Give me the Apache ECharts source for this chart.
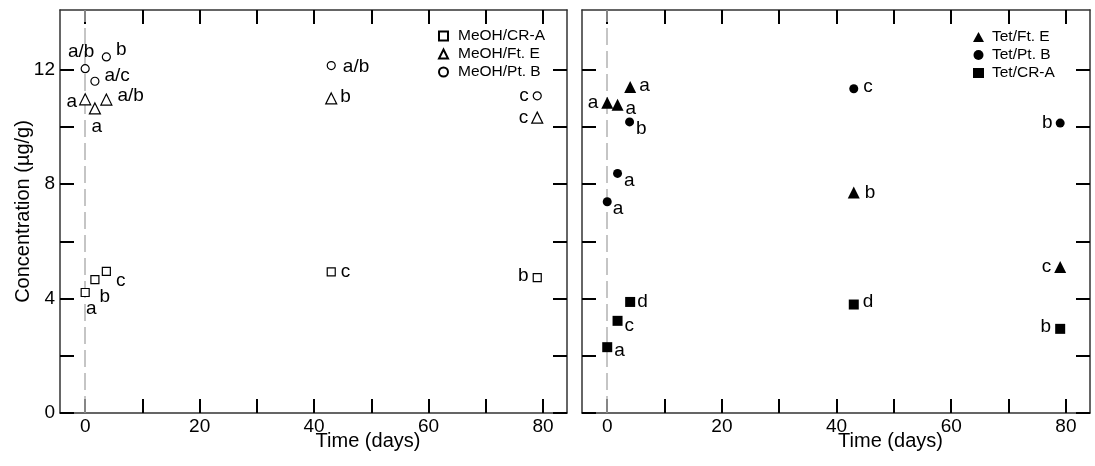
<!DOCTYPE html>
<html>
<head>
<meta charset="utf-8">
<script src="https://cdn.jsdelivr.net/npm/echarts@6/dist/echarts.min.js"></script>
<style>
html,body{margin:0;padding:0;background:#fff;}
#chart{width:1095px;height:466px;}
</style>
</head>
<body>
<div id="chart"></div>
<script>
// ---------- DATA ----------
const xTicks = [0, 10, 20, 30, 40, 50, 60, 70, 80];
const xLabels = [0, 20, 40, 60, 80];
const yTicks = [0, 2, 4, 6, 8, 10, 12];
const yLabels = [0, 4, 8, 12];

// Left panel (MeOH)
const meohCraDays = [0, 1.7, 3.7, 43, 79];
const meohCraConc = [4.21, 4.66, 4.95, 4.93, 4.73];
const meohCraLetters = ['a', 'b', 'c', 'c', 'b'];

const meohFtEDays = [0, 1.7, 3.7, 43, 79];
const meohFtEConc = [10.96, 10.64, 10.95, 10.99, 10.32];
const meohFtELetters = ['a', 'a', 'a/b', 'b', 'c'];

const meohPtBDays = [0, 1.7, 3.7, 43, 79];
const meohPtBConc = [12.03, 11.59, 12.44, 12.14, 11.08];
const meohPtBLetters = ['a/b', 'a/c', 'b', 'a/b', 'c'];

// Right panel (Tet)
const tetFtEDays = [0, 1.8, 4, 43, 79];
const tetFtEConc = [10.84, 10.77, 11.39, 7.70, 5.10];
const tetFtELetters = ['a', 'a', 'a', 'b', 'c'];

const tetPtBDays = [0, 1.8, 3.9, 43, 79];
const tetPtBConc = [7.38, 8.37, 10.17, 11.33, 10.13];
const tetPtBLetters = ['a', 'a', 'b', 'c', 'b'];

const tetCraDays = [0, 1.8, 4, 43, 79];
const tetCraConc = [2.30, 3.22, 3.88, 3.79, 2.94];
const tetCraLetters = ['a', 'c', 'd', 'd', 'b'];

// ---------- LABEL LAYOUT (style only) ----------
const lay = {
  meohCra: [['bottom', 6, -3], ['bottom', 10, -2], ['right', 0, 9], ['right', 0, 0], ['left', 1, -2]],
  meohFtE: [['left', 3, 2], ['bottom', 2, -2], ['right', 0, -4], ['right', -2, -2], ['left', 2, 0]],
  meohPtB: [['top', -4, 2], ['right', 0, -6], ['right', 0, -7], ['right', 2, 1], ['left', 1, 0]],
  tetFtE: [['left', 2, 0], ['right', -3, 4], ['right', -2, -1], ['right', 0, 0], ['left', 2, 0]],
  tetPtB: [['right', -4, 7], ['right', -3, 7], ['right', -3, 7], ['right', 0, -2], ['left', 2, 0]],
  tetCra: [['right', -3, 4], ['right', -3, 5], ['right', -3, 0], ['right', -1, -3], ['left', 1, -2]]
};

const FONT = "'Liberation Sans', Arial, Helvetica, sans-serif";

function pts(days, conc, letters, layout) {
  return days.map((d, i) => ({
    value: [d, conc[i]],
    label: {
      show: true,
      formatter: letters[i],
      position: layout[i][0],
      offset: [layout[i][1], layout[i][2]],
      distance: 5,
      color: '#000',
      opacity: 1,
      fontSize: 19,
      fontFamily: FONT
    }
  }));
}

const X_MIN = -4.4, X_MAX = 84.2, Y_MIN = 0, Y_MAX = 14.08;

function xAxisCfg(gridIndex, position, showLabels, withName) {
  return {
    type: 'value', gridIndex, position, min: X_MIN, max: X_MAX,
    splitLine: { show: false },
    axisLine: { show: true, onZero: false, lineStyle: { color: '#333', width: 1.5 } },
    axisTick: { show: true, inside: true, length: 14, customValues: xTicks, lineStyle: { color: '#000', width: 2 } },
    axisLabel: { show: showLabels, customValues: xLabels, margin: 4, color: '#000', fontSize: 19, fontFamily: FONT },
    name: withName ? 'Time (days)' : '',
    nameLocation: 'middle', nameGap: 18, nameMoveOverlap: false,
    nameTextStyle: { color: '#000', fontSize: 20, fontFamily: FONT, padding: [0, 0, 0, 109] }
  };
}
function yAxisCfg(gridIndex, position, showLabels, withName) {
  return {
    type: 'value', gridIndex, position, min: Y_MIN, max: Y_MAX,
    splitLine: { show: false },
    axisLine: { show: true, onZero: false, lineStyle: { color: '#333', width: 1.5 } },
    axisTick: { show: true, inside: true, length: 14, customValues: yTicks, lineStyle: { color: '#000', width: 2 } },
    axisLabel: { show: showLabels, customValues: yLabels, margin: 5, color: '#000', fontSize: 19, fontFamily: FONT },
    name: withName ? 'Concentration (µg/g)' : '',
    nameLocation: 'middle', nameGap: 27, nameMoveOverlap: false,
    nameTextStyle: { color: '#000', fontSize: 20, fontFamily: FONT }
  };
}

const zeroLine = {
  silent: true, symbol: 'none', z: 1,
  label: { show: false },
  lineStyle: { color: '#b3b3b3', width: 1.5, type: [17, 6] },
  emphasis: { disabled: true },
  data: [{ xAxis: 0 }]
};

const hollow = { color: '#fff', borderColor: '#000', borderWidth: 1.2, opacity: 1 };
const filled = { color: '#000', borderColor: '#000', borderWidth: 0, opacity: 1 };

const option = {
  animation: false,
  backgroundColor: '#fff',
  textStyle: { fontFamily: FONT },
  grid: [
    { left: 60, top: 10, width: 507, height: 403 },
    { left: 582, top: 10, width: 508, height: 403 }
  ],
  xAxis: [
    xAxisCfg(0, 'bottom', true, true),
    xAxisCfg(1, 'bottom', true, true),
    xAxisCfg(0, 'top', false, false),
    xAxisCfg(1, 'top', false, false)
  ],
  yAxis: [
    yAxisCfg(0, 'left', true, true),
    yAxisCfg(1, 'left', false, false),
    yAxisCfg(0, 'right', false, false),
    yAxisCfg(1, 'right', false, false)
  ],
  legend: [
    {
      data: ['MeOH/CR-A', 'MeOH/Ft. E', 'MeOH/Pt. B'],
      orient: 'vertical', left: 438, top: 28, itemGap: 2,
      itemWidth: 9, itemHeight: 9, padding: 0,
      textStyle: { color: '#000', fontSize: 15.5, fontFamily: FONT, padding: [0, 0, 0, 5] }
    },
    {
      data: ['Tet/Ft. E', 'Tet/Pt. B', 'Tet/CR-A'],
      orient: 'vertical', left: 973, top: 29, itemGap: 2,
      itemWidth: 11, itemHeight: 10, padding: 0,
      textStyle: { color: '#000', fontSize: 15.5, fontFamily: FONT, padding: [0, 0, 0, 3] }
    }
  ],
  series: [
    {
      name: 'MeOH/CR-A', type: 'scatter', xAxisIndex: 0, yAxisIndex: 0,
      symbol: 'rect', symbolSize: 8, itemStyle: hollow, z: 3,
      emphasis: { disabled: true },
      data: pts(meohCraDays, meohCraConc, meohCraLetters, lay.meohCra),
      markLine: zeroLine
    },
    {
      name: 'MeOH/Ft. E', type: 'scatter', xAxisIndex: 0, yAxisIndex: 0,
      symbol: 'triangle', symbolSize: 11, itemStyle: hollow, z: 3,
      emphasis: { disabled: true },
      data: pts(meohFtEDays, meohFtEConc, meohFtELetters, lay.meohFtE)
    },
    {
      name: 'MeOH/Pt. B', type: 'scatter', xAxisIndex: 0, yAxisIndex: 0,
      symbol: 'circle', symbolSize: 8, itemStyle: hollow, z: 3,
      emphasis: { disabled: true },
      data: pts(meohPtBDays, meohPtBConc, meohPtBLetters, lay.meohPtB)
    },
    {
      name: 'Tet/Ft. E', type: 'scatter', xAxisIndex: 1, yAxisIndex: 1,
      symbol: 'triangle', symbolSize: 12, itemStyle: filled, z: 3,
      emphasis: { disabled: true },
      data: pts(tetFtEDays, tetFtEConc, tetFtELetters, lay.tetFtE),
      markLine: zeroLine
    },
    {
      name: 'Tet/Pt. B', type: 'scatter', xAxisIndex: 1, yAxisIndex: 1,
      symbol: 'circle', symbolSize: 9, itemStyle: filled, z: 3,
      emphasis: { disabled: true },
      data: pts(tetPtBDays, tetPtBConc, tetPtBLetters, lay.tetPtB)
    },
    {
      name: 'Tet/CR-A', type: 'scatter', xAxisIndex: 1, yAxisIndex: 1,
      symbol: 'rect', symbolSize: 10, itemStyle: filled, z: 3,
      emphasis: { disabled: true },
      data: pts(tetCraDays, tetCraConc, tetCraLetters, lay.tetCra)
    }
  ]
};

const chart = echarts.init(document.getElementById('chart'), null, { renderer: 'canvas' });
chart.setOption(option);
</script>
</body>
</html>
